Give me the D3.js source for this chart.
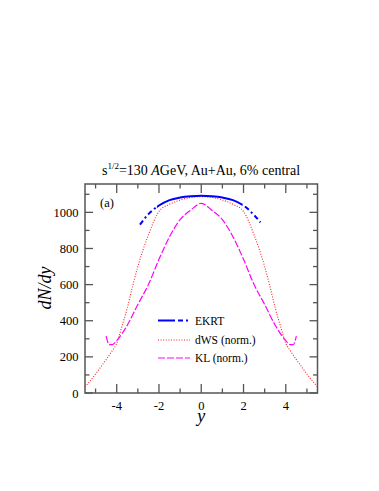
<!DOCTYPE html>
<html>
<head>
<meta charset="utf-8">
<script src="https://cdn.jsdelivr.net/npm/d3@7"></script>
<style>
  body { margin: 0; background: #fff; }
  text { font-family: "Liberation Serif", "DejaVu Serif", serif; fill: #000; }
</style>
</head>
<body>
<div id="chart"></div>
<script>
// rapidity values (x) and dN/dy values
var ekrtY = [-2.9, -2.5, -2, -1.5, -1, -0.5, 0, 0.5, 1, 1.5, 2, 2.5, 2.8];
var ekrtN = [932, 990, 1038, 1068, 1082, 1089, 1092, 1089, 1082, 1068, 1038, 985, 945];

var dwsY = [-5.5, -5.25, -5, -4.75, -4.5, -4.25, -4, -3.75, -3.5, -3.25, -3, -2.5, -2, -1.5, -1, -0.5, 0,
            0.5, 1, 1.5, 2, 2.5, 3, 3.25, 3.5, 3.75, 4, 4.25, 4.5, 4.75, 5, 5.25, 5.5];
var dwsN = [35, 68, 105, 145, 185, 228, 275, 370, 470, 590, 700, 875, 1005, 1045, 1068, 1083, 1087,
            1083, 1068, 1045, 1005, 875, 700, 590, 470, 370, 275, 228, 185, 145, 105, 68, 35];

var klY = [-4.5, -4.35, -4.2, -4, -3.5, -3, -2.5, -2, -1.5, -1, -0.5, 0,
           0.5, 1, 1.5, 2, 2.5, 3, 3.5, 4, 4.2, 4.35, 4.5];
var klN = [315, 268, 268, 290, 375, 490, 600, 740, 865, 960, 1012, 1050,
           1012, 960, 865, 740, 600, 490, 375, 290, 268, 268, 315];

var xTicks = [-4, -2, 0, 2, 4];
var xMinor = [-5, -3, -1, 1, 3, 5];
var yTicks = [0, 200, 400, 600, 800, 1000];
var yMinor = [100, 300, 500, 700, 900, 1100];

var legendNames = ["EKRT", "dWS (norm.)", "KL (norm.)"];

var W = 379, H = 491;
var pL = 85, pR = 317.5, pT = 184, pB = 393;

var svg = d3.select("#chart").append("svg")
    .attr("width", W).attr("height", H);

var x = d3.scaleLinear().domain([-5.5, 5.5]).range([pL, pR]);
var y = d3.scaleLinear().domain([0, 1157]).range([pB, pT]);

var frameColor = "#555";

// ticks on all four sides, pointing inward
function xticks(vals, len) {
  vals.forEach(function(v) {
    svg.append("line").attr("x1", x(v)).attr("x2", x(v))
      .attr("y1", pB).attr("y2", pB - len)
      .attr("stroke", frameColor).attr("stroke-width", 1.3);
    svg.append("line").attr("x1", x(v)).attr("x2", x(v))
      .attr("y1", pT).attr("y2", pT + len)
      .attr("stroke", frameColor).attr("stroke-width", 1.3);
  });
}
xticks(xTicks, 9);
xticks(xMinor, 4.5);

function yticks(vals, len) {
  vals.forEach(function(v) {
    svg.append("line").attr("x1", pL).attr("x2", pL + len)
      .attr("y1", y(v)).attr("y2", y(v))
      .attr("stroke", frameColor).attr("stroke-width", 1.3);
    svg.append("line").attr("x1", pR).attr("x2", pR - len)
      .attr("y1", y(v)).attr("y2", y(v))
      .attr("stroke", frameColor).attr("stroke-width", 1.3);
  });
}
yticks(yTicks, 8);
yticks(yMinor, 4.5);

svg.append("rect")
  .attr("x", pL).attr("y", pT)
  .attr("width", pR - pL).attr("height", pB - pT)
  .attr("fill", "none").attr("stroke", frameColor).attr("stroke-width", 1.5);

// tick labels
svg.selectAll(".xl").data(xTicks).enter().append("text")
  .attr("x", function(d) { return x(d); })
  .attr("y", 410)
  .attr("text-anchor", "middle")
  .attr("font-size", 12.5)
  .text(function(d) { return d; });

svg.selectAll(".yl").data(yTicks).enter().append("text")
  .attr("x", 78.5)
  .attr("y", function(d) { return y(d) + 4.5; })
  .attr("text-anchor", "end")
  .attr("font-size", 12.5)
  .text(function(d) { return d; });

// axis titles
svg.append("text")
  .attr("x", x(0)).attr("y", 421.5)
  .attr("text-anchor", "middle")
  .attr("font-size", 18).attr("font-style", "italic")
  .text("y");

svg.append("text")
  .attr("transform", "translate(51,288) rotate(-90)")
  .attr("text-anchor", "middle")
  .attr("font-size", 18).attr("font-style", "italic")
  .text("dN/dy");

// title
var title = svg.append("text")
  .attr("x", 201).attr("y", 175)
  .attr("text-anchor", "middle")
  .attr("font-size", 14);
title.append("tspan").text("s");
title.append("tspan").attr("font-size", 9).attr("dy", -6).text("1/2");
title.append("tspan").attr("dy", 6).text("=130 ");
title.append("tspan").attr("font-style", "italic").text("A");
title.append("tspan").text("GeV, Au+Au, 6% central");

svg.append("text")
  .attr("x", 100).attr("y", 207)
  .attr("font-size", 12.5)
  .text("(a)");

// curves
function line(xs) {
  return d3.line()
    .x(function(d, i) { return x(xs[i]); })
    .y(function(d) { return y(d); })
    .curve(d3.curveMonotoneX);
}

svg.append("path")
  .attr("d", line(dwsY)(dwsN))
  .attr("fill", "none").attr("stroke", "#ff2020")
  .attr("stroke-width", 1.1).attr("stroke-dasharray", "1,1.6");

svg.append("path")
  .attr("d", line(klY)(klN))
  .attr("fill", "none").attr("stroke", "#ff00ff")
  .attr("stroke-width", 1.2).attr("stroke-dasharray", "7,2");

// EKRT: solid in the central region, dash-dot outside
var ekrtPath = line(ekrtY)(ekrtN);
var outer = svg.append("clipPath").attr("id", "outer");
outer.append("rect").attr("x", 0).attr("y", 0).attr("width", x(-2.1)).attr("height", H);
outer.append("rect").attr("x", x(1.95)).attr("y", 0).attr("width", W - x(1.95)).attr("height", H);
svg.append("clipPath").attr("id", "mid").append("rect")
  .attr("x", x(-2.1)).attr("y", 0).attr("width", x(1.95) - x(-2.1)).attr("height", H);

svg.append("path")
  .attr("d", ekrtPath)
  .attr("fill", "none").attr("stroke", "#0000ff")
  .attr("stroke-width", 2).attr("stroke-dasharray", "5,3,2,3")
  .attr("clip-path", "url(#outer)");
svg.append("path")
  .attr("d", ekrtPath)
  .attr("fill", "none").attr("stroke", "#0000ff")
  .attr("stroke-width", 2).attr("clip-path", "url(#mid)");

// legend
var legY = [320.5, 340, 358];
var legStyle = [
  { c: "#0000ff", w: 2, dash: "17,3,5,3,2,2" },
  { c: "#ff2020", w: 1.1, dash: "1,1.6" },
  { c: "#ff00ff", w: 1.2, dash: "7,2" }
];
legendNames.forEach(function(name, i) {
  svg.append("line")
    .attr("x1", 158).attr("x2", 190)
    .attr("y1", legY[i]).attr("y2", legY[i])
    .attr("stroke", legStyle[i].c).attr("stroke-width", legStyle[i].w)
    .attr("stroke-dasharray", legStyle[i].dash);
  svg.append("text")
    .attr("x", 195).attr("y", legY[i] + 4)
    .attr("font-size", 11.5)
    .text(name);
});
</script>
</body>
</html>
